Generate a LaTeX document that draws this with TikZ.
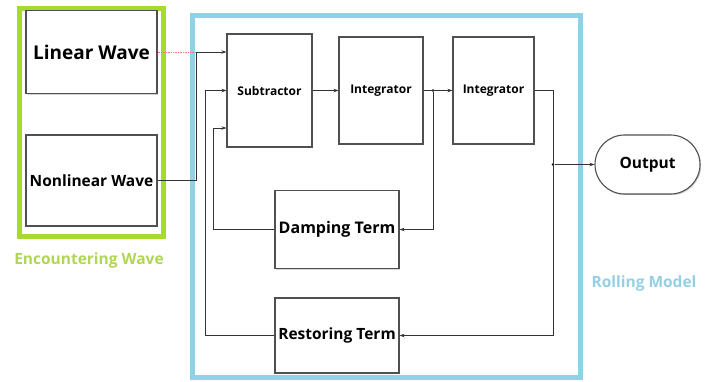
\documentclass[tikz,border=0pt]{standalone}
\usepackage{fontspec}
\setmainfont{Open Sans}
\usetikzlibrary{arrows.meta,shapes.misc,shadows}
\definecolor{limeG}{HTML}{A6DA2C}
\definecolor{limeT}{HTML}{B0D654}
\definecolor{skyB}{HTML}{8FD2E8}
\definecolor{skyT}{HTML}{95CFE4}
\definecolor{boxE}{HTML}{505050}

\begin{document}
\begin{tikzpicture}[x=1pt,y=-1pt,
  block/.style={draw=boxE, line width=1.1pt, fill=white, inner sep=0pt,
    font=\bfseries, drop shadow={shadow xshift=1.2pt, shadow yshift=-1.2pt, opacity=0.35}},
  wire/.style={draw=black!80, line width=0.7pt},
  tip/.style={-{Stealth[length=5pt,width=3.5pt]}},
  dot/.style={circle, fill=black, inner sep=0pt, minimum size=2.6pt}]
  \useasboundingbox (0,0) rectangle (711,381);

  % frames
  \draw[limeG, line width=5pt] (19.5,8.5) rectangle (163.5,236);
  \draw[skyB, line width=5pt] (192.5,15.5) rectangle (580.5,377.5);
  \node[limeT, font=\bfseries\fontsize{15.5}{18}\selectfont] (encw) at (89,260) {Encountering Wave};
  \node[skyT, font=\bfseries\fontsize{15.5}{18}\selectfont] (rollm) at (644,283) {Rolling Model};

  % blocks
  \node[block, minimum width=131, minimum height=83, font=\bfseries\fontsize{19}{22}\selectfont] (linear) at (91.5,52) {Linear Wave};
  \node[block, minimum width=131, minimum height=91, font=\bfseries\fontsize{15.5}{18}\selectfont] (nonlinear) at (91.5,180.5) {Nonlinear Wave};
  \node[block, minimum width=85, minimum height=113, font=\bfseries\fontsize{12}{14}\selectfont] (sub) at (269.5,90.5) {Subtractor};
  \node[block, minimum width=84, minimum height=107, font=\bfseries\fontsize{12}{14}\selectfont] (intA) at (381,90.5) {Integrator};
  \node[block, minimum width=81, minimum height=107, font=\bfseries\fontsize{12}{14}\selectfont] (intB) at (493.5,90.5) {Integrator};
  \node[block, minimum width=124, minimum height=78, font=\bfseries\fontsize{16}{19}\selectfont] (damp) at (337,229.5) {Damping Term};
  \node[block, minimum width=124, minimum height=75, font=\bfseries\fontsize{15.5}{18}\selectfont] (rest) at (337,335.5) {Restoring Term};
  \node[block, rounded rectangle, minimum width=105, minimum height=59, font=\bfseries\fontsize{15.5}{18}\selectfont] (out) at (647.5,164.5) {Output};

  % joints
  \coordinate (j1) at (196,52);
  \coordinate (r1) at (205,90.5);
  \coordinate (d1) at (213,128);
  \node[dot] (j2) at (433,90.5) {};
  \coordinate (j3) at (553,90.5);
  \node[dot] (j4) at (553,164.5) {};

  % waves into subtractor
  \draw[red!55, line width=0.7pt, densely dotted] (linear.east) -- (j1);
  \draw[wire, tip] (nonlinear.east) -| (j1) -- (sub.west |- j1);
  \draw[wire, tip] (rest.west) -| (r1) -- (sub.west);
  \draw[wire, tip] (damp.west) -| (d1) -- (sub.west |- d1);

  % forward path
  \draw[wire, tip] (sub.east) -- (intA.west);
  \draw[wire, tip] (intA.east) -- (intB.west);
  \draw[wire, tip] (j2) |- (damp.east);
  \draw[wire, tip] (intB.east) -- (j3) |- (rest.east);
  \draw[wire, tip] (j4) -- (out.west);
\end{tikzpicture}
\end{document}
